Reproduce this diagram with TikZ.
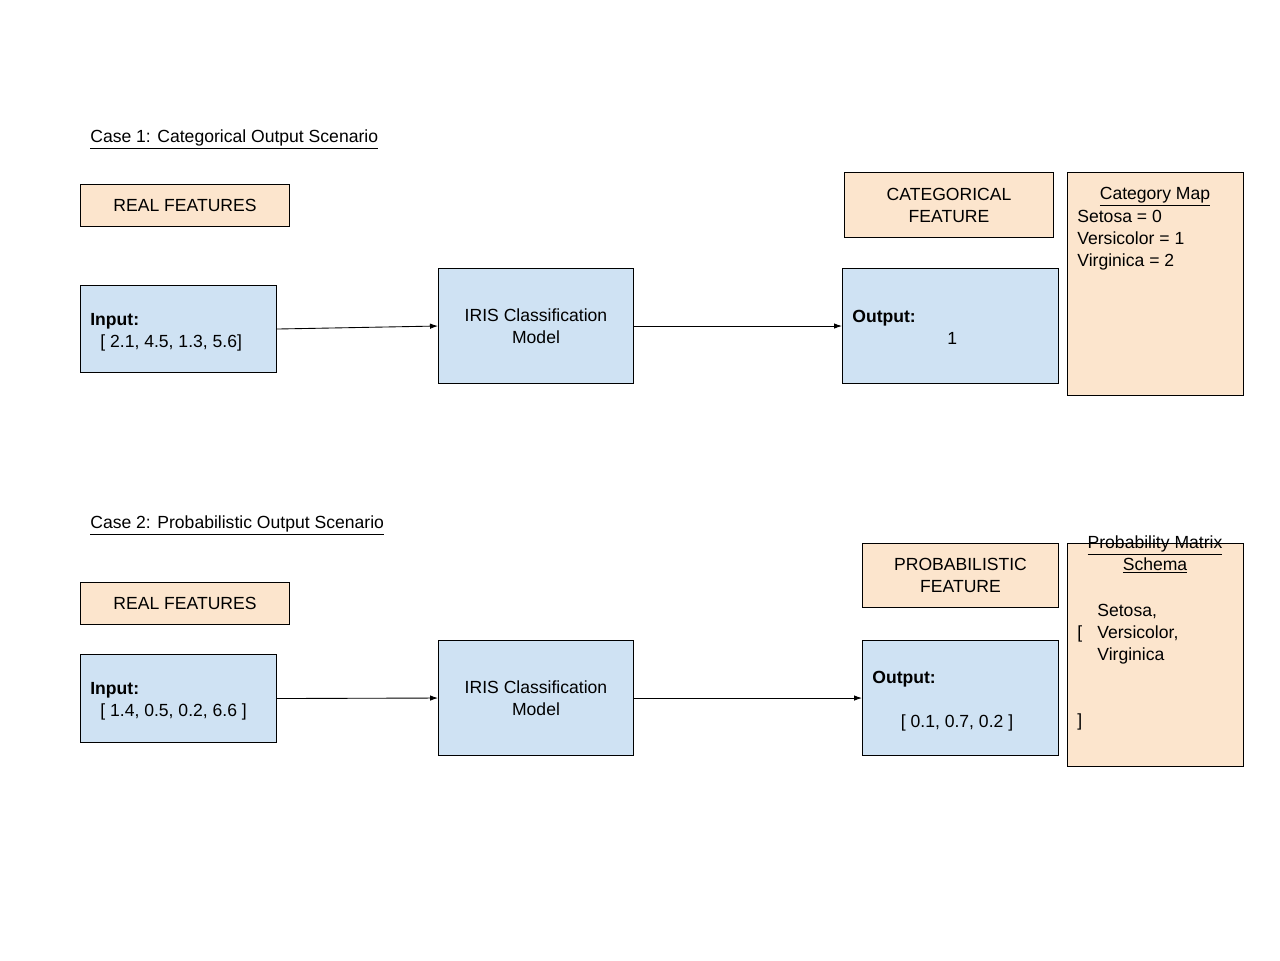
\documentclass[tikz,border=0pt]{standalone}
\usepackage{fontspec}
\setmainfont{Liberation Sans}
\usetikzlibrary{arrows.meta}

\definecolor{boxblue}{HTML}{CFE2F3}
\definecolor{boxorange}{HTML}{FCE5CD}

\tikzset{
  box/.style={draw=black, line width=0.6pt, anchor=north west, inner sep=0pt},
  bluebox/.style={box, fill=boxblue},
  orangebox/.style={box, fill=boxorange, align=center},
  txt/.style={anchor=base west, inner sep=0pt, align=left},
  flow/.style={-{Latex[length=1.6mm,width=1.1mm]}, line width=0.5pt}
}

\begin{document}
\begin{tikzpicture}[x=0.02cm, y=-0.02cm, font=\fontsize{10}{12.5}\selectfont]
  \useasboundingbox (0,0) rectangle (1280,960);

  % Case 1
  \node[txt] (title1) at (90,142) {\underline{Case 1: Categorical Output Scenario}};
  \node[orangebox, minimum width=4.18cm, minimum height=0.84cm] (real1) at (80,184) {REAL FEATURES};
  \node[bluebox, minimum width=3.92cm, minimum height=1.74cm] (in1) at (80,285) {};
  \node[txt] (in1a) at (90,325) {\textbf{Input:}};
  \node[txt] (in1b) at (100,347) {[ 2.1, 4.5, 1.3, 5.6]};
  \node[bluebox, minimum width=3.9cm, minimum height=2.3cm, align=center] (mod1) at (438,268) {IRIS Classification\\Model};
  \node[orangebox, minimum width=4.18cm, minimum height=1.3cm] (cat1) at (844,172) {CATEGORICAL\\FEATURE};
  \node[bluebox, minimum width=4.32cm, minimum height=2.3cm] (out1) at (842,268) {};
  \node[txt] (out1a) at (852,322) {\textbf{Output:}};
  \node[txt] (out1b) at (947,344) {1};
  \node[orangebox, minimum width=3.52cm, minimum height=4.46cm] (map1) at (1067,172) {};
  \node[anchor=base, inner sep=0pt] (map1t) at (1155,199) {\underline{Category Map}};
  \node[txt] (map1b) at (1077,266) {Setosa = 0\\Versicolor = 1\\Virginica = 2};

  \draw[flow] (in1.east) -- (mod1.west);
  \draw[flow] (mod1.east) -- (out1.west);

  % Case 2
  \node[txt] (title2) at (90,528) {\underline{Case 2: Probabilistic Output Scenario}};
  \node[orangebox, minimum width=4.18cm, minimum height=0.84cm] (real2) at (80,582) {REAL FEATURES};
  \node[bluebox, minimum width=3.92cm, minimum height=1.76cm] (in2) at (80,654) {};
  \node[txt] (in2a) at (90,694) {\textbf{Input:}};
  \node[txt] (in2b) at (100,716) {[ 1.4, 0.5, 0.2, 6.6 ]};
  \node[bluebox, minimum width=3.9cm, minimum height=2.3cm, align=center] (mod2) at (438,640) {IRIS Classification\\Model};
  \node[orangebox, minimum width=3.92cm, minimum height=1.28cm] (prob2) at (862,543) {PROBABILISTIC\\FEATURE};
  \node[bluebox, minimum width=3.92cm, minimum height=2.3cm] (out2) at (862,640) {};
  \node[txt] (out2a) at (872,683) {\textbf{Output:}};
  \node[anchor=base, inner sep=0pt] (out2b) at (957,727) {[ 0.1, 0.7, 0.2 ]};
  \node[orangebox, minimum width=3.52cm, minimum height=4.46cm] (sch2) at (1067,543) {};
  \node[anchor=base, inner sep=0pt, align=center] (sch2t) at (1155,570) {\underline{Probability Matrix}\\\underline{Schema}};
  \node[txt] (sch2a) at (1077,638) {[};
  \node[txt] (sch2b) at (1097,660) {Setosa,\\Versicolor,\\Virginica};
  \node[txt] (sch2c) at (1077,726) {]};

  \draw[flow] (in2.east) -- (mod2.west);
  \draw[flow] (mod2.east) -- (out2.west);
\end{tikzpicture}
\end{document}
